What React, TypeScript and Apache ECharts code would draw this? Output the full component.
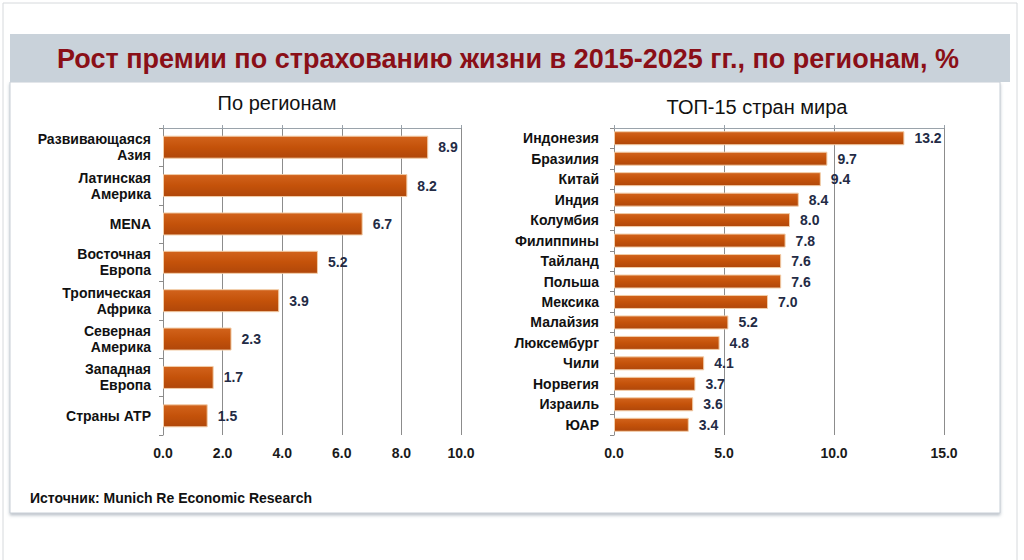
import React, { useEffect, useRef } from "react";
import * as echarts from "echarts";

const titleText = "Рост премии по страхованию жизни в 2015-2025 гг., по регионам, %";
const leftTitle = "По регионам";
const rightTitle = "ТОП-15 стран мира";
const sourceText = "Источник: Munich Re Economic Research";

const regionCategories = [
  "Развивающаяся\nАзия",
  "Латинская\nАмерика",
  "MENA",
  "Восточная\nЕвропа",
  "Тропическая\nАфрика",
  "Северная\nАмерика",
  "Западная\nЕвропа",
  "Страны АТР",
];
const regionValues = [8.9, 8.2, 6.7, 5.2, 3.9, 2.3, 1.7, 1.5];

const countryCategories = [
  "Индонезия",
  "Бразилия",
  "Китай",
  "Индия",
  "Колумбия",
  "Филиппины",
  "Тайланд",
  "Польша",
  "Мексика",
  "Малайзия",
  "Люксембург",
  "Чили",
  "Норвегия",
  "Израиль",
  "ЮАР",
];
const countryValues = [13.2, 9.7, 9.4, 8.4, 8.0, 7.8, 7.6, 7.6, 7.0, 5.2, 4.8, 4.1, 3.7, 3.6, 3.4];

const FONT = "'Liberation Sans', Arial, sans-serif";

const barColor = new echarts.graphic.LinearGradient(0, 0, 0, 1, [
  { offset: 0, color: "#d2631c" },
  { offset: 0.5, color: "#c4520a" },
  { offset: 1, color: "#b0470a" },
]);

export default function App() {
  const ref = useRef<HTMLDivElement>(null);
  useEffect(() => {
    if (!ref.current) return;
    const chart = echarts.init(ref.current, null, { renderer: "svg" });
    const valueAxisCommon = (max: number, interval: number, gridIndex: number) => ({
      type: "value" as const,
      gridIndex,
      min: 0,
      max,
      interval,
      position: "bottom" as const,
      axisLine: { show: false },
      axisTick: { show: false },
      axisLabel: {
        formatter: (v: number) => v.toFixed(1),
        color: "#1a1a1a",
        fontFamily: FONT,
        fontWeight: "bold" as const,
        fontSize: 14,
        margin: 11,
      },
      splitLine: { show: true, lineStyle: { color: "#8c8c8c", width: 1 } },
    });
    const topAxis = (max: number, interval: number, gridIndex: number) => ({
      type: "value" as const,
      gridIndex,
      min: 0,
      max,
      interval,
      position: "top" as const,
      axisLine: { show: true, lineStyle: { color: "#9aa3ab" } },
      axisTick: { show: true, length: 3, lineStyle: { color: "#9aa3ab" } },
      axisLabel: { show: false },
      splitLine: { show: false },
    });
    const catAxis = (data: string[], gridIndex: number, fontSize: number, margin: number) => ({
      type: "category" as const,
      gridIndex,
      data,
      inverse: true,
      axisLine: { show: true, lineStyle: { color: "#8c8c8c" } },
      axisTick: { show: true, length: 4, lineStyle: { color: "#8c8c8c" } },
      axisLabel: {
        color: "#111",
        fontFamily: FONT,
        fontWeight: "bold" as const,
        fontSize,
        lineHeight: 16,
        margin,
        align: "right" as const,
      },
    });
    const labelStyle = {
      show: true,
      position: "right" as const,
      distance: 10,
      color: "#232b45",
      fontFamily: FONT,
      fontWeight: "bold" as const,
      fontSize: 14,
      formatter: (p: any) => Number(p.value).toFixed(1),
    };
    chart.setOption({
      animation: false,
      backgroundColor: "#ffffff",
      graphic: [
        {
          type: "rect",
          shape: { x: 3, y: 3, width: 1014, height: 560 },
          style: { fill: "#ffffff", stroke: "#d6d9dc", lineWidth: 1 },
          z: -10,
        },
        {
          type: "rect",
          shape: { x: 10, y: 82, width: 990, height: 431 },
          style: {
            fill: "#ffffff",
            stroke: "#c7ced6",
            lineWidth: 1,
            shadowColor: "rgba(120,135,150,0.5)",
            shadowBlur: 3,
            shadowOffsetY: 2,
          },
          z: -9,
        },
        {
          type: "rect",
          shape: { x: 10, y: 34, width: 1000, height: 48 },
          style: { fill: "#c9d2da" },
          z: -8,
        },
        {
          type: "text",
          x: 508,
          y: 59,
          style: {
            text: titleText,
            fill: "#8a0f17",
            font: `bold 27px ${FONT}`,
            textAlign: "center",
            textVerticalAlign: "middle",
          },
        },
        {
          type: "text",
          x: 277,
          y: 103,
          style: {
            text: leftTitle,
            fill: "#111",
            font: `20px ${FONT}`,
            textAlign: "center",
            textVerticalAlign: "middle",
          },
        },
        {
          type: "text",
          x: 757,
          y: 107,
          style: {
            text: rightTitle,
            fill: "#111",
            font: `20px ${FONT}`,
            textAlign: "center",
            textVerticalAlign: "middle",
          },
        },
        {
          type: "text",
          x: 30,
          y: 498,
          style: {
            text: sourceText,
            fill: "#111",
            font: `bold 14px ${FONT}`,
            textAlign: "left",
            textVerticalAlign: "middle",
          },
        },
      ],
      grid: [
        { left: 163, right: 563, top: 128, bottom: 125, containLabel: false },
        { left: 614, right: 80, top: 128, bottom: 125, containLabel: false },
      ],
      xAxis: [
        valueAxisCommon(10, 2, 0),
        valueAxisCommon(15, 5, 1),
        topAxis(10, 2, 0),
        topAxis(15, 5, 1),
      ],
      yAxis: [catAxis(regionCategories, 0, 14, 12), catAxis(countryCategories, 1, 14, 15)],
      series: [
        {
          type: "bar",
          xAxisIndex: 0,
          yAxisIndex: 0,
          data: regionValues,
          barWidth: 23,
          itemStyle: { color: barColor, borderColor: "#f2cda8", borderWidth: 1 },
          label: labelStyle,
        },
        {
          type: "bar",
          xAxisIndex: 1,
          yAxisIndex: 1,
          data: countryValues,
          barWidth: 14,
          itemStyle: { color: barColor, borderColor: "#f2cda8", borderWidth: 1 },
          label: labelStyle,
        },
      ],
    });
    return () => chart.dispose();
  }, []);
  return (
    <div
      ref={ref}
      style={{ position: "fixed", left: 0, top: 0, width: 1024, height: 560 }}
    />
  );
}
